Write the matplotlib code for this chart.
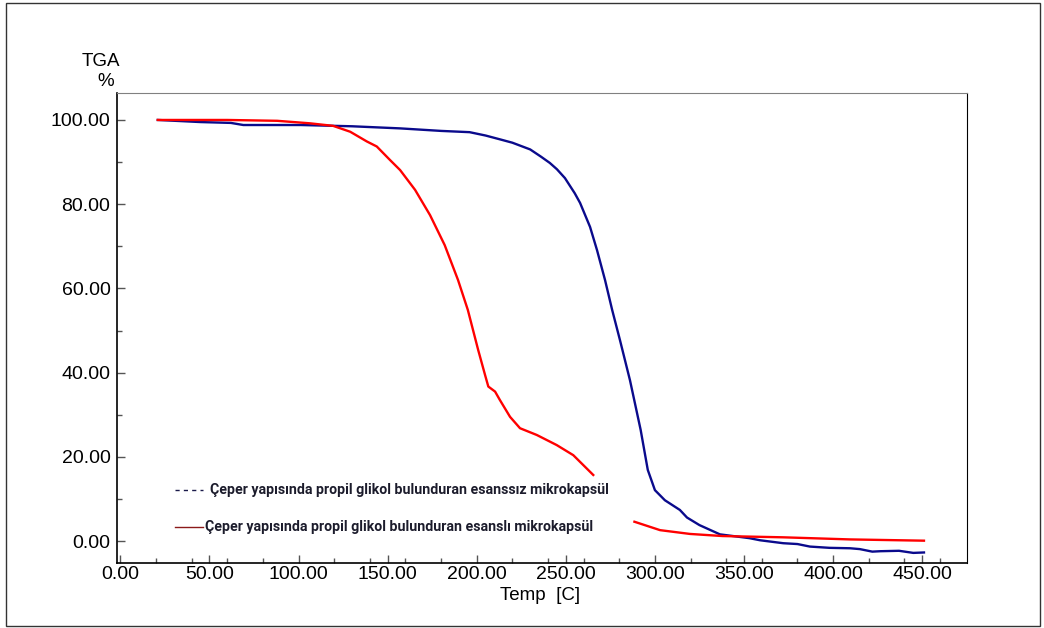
import numpy as np
import matplotlib.pyplot as plt
from matplotlib.patches import Rectangle
from matplotlib.ticker import MultipleLocator, FormatStrFormatter

# TGA egrileri: sicaklik (C) ve kalan kutle (%)
temp_esanssiz = [21, 45, 62, 69, 80, 101, 130, 157, 180, 196, 205, 213, 220, 230,
                 236, 241, 245, 249.5, 255, 258, 263.6, 267.5, 272, 276, 280.4, 286,
                 292, 296, 300, 305.6, 314, 318, 325, 336.5, 353, 359, 372, 380,
                 387, 398, 409.5, 415, 422, 426.5, 437, 445, 451]
tga_esanssiz = [100.0, 99.5, 99.3, 98.8, 98.8, 98.8, 98.5, 98.0, 97.4, 97.1, 96.3,
                95.4, 94.6, 93.0, 91.3, 89.8, 88.3, 86.2, 82.6, 80.3, 74.6, 69.1,
                62.0, 54.9, 47.7, 38.2, 26.4, 16.9, 12.1, 9.7, 7.4, 5.6, 3.8, 1.6,
                0.7, 0.2, -0.5, -0.7, -1.3, -1.6, -1.7, -1.9, -2.5, -2.4, -2.3,
                -2.8, -2.7]

temp_esansli = [21, 60, 88, 106.5, 119.4, 129, 138.3, 143.9, 151.3, 157, 165.4,
                173.8, 182, 189.5, 195, 200.8, 204.7, 206.5, 210.3, 213, 218.7,
                224.3, 233.7, 244.9, 254.2, 265.4, np.nan, 288.5, 302.9, 319.7,
                338, 372, 409.5, 451]
tga_esansli = [100.0, 100.0, 99.8, 99.2, 98.6, 97.2, 94.9, 93.7, 90.5, 88.1, 83.4,
               77.4, 70.3, 62.0, 54.9, 45.4, 39.4, 36.7, 35.5, 33.5, 29.5, 26.8,
               25.2, 22.8, 20.4, 15.7, np.nan, 4.6, 2.6, 1.7, 1.2, 0.9, 0.4, 0.1]

label_esanssiz = "Çeper yapısında propil glikol bulunduran esanssız mikrokapsül"
label_esansli = "Çeper yapısında propil glikol bulunduran esanslı mikrokapsül"

plt.rcParams['font.family'] = ['Liberation Sans', 'DejaVu Sans']

fig = plt.figure(figsize=(10.44, 6.28), dpi=100)
ax = fig.add_axes([0.1124, 0.1035, 0.8141, 0.7484])

ax.plot(temp_esanssiz, tga_esanssiz, color='#0a0a8c', lw=1.7)
ax.plot(temp_esansli, tga_esansli, color='#ff0000', lw=1.7)

ax.set_xlim(-1.7, 475.3)
ax.set_ylim(-5.2, 106.4)
ax.xaxis.set_major_locator(MultipleLocator(50))
ax.xaxis.set_minor_locator(MultipleLocator(20))
ax.yaxis.set_major_locator(MultipleLocator(20))
ax.yaxis.set_minor_locator(MultipleLocator(10))
ax.xaxis.set_major_formatter(FormatStrFormatter('%.2f'))
ax.yaxis.set_major_formatter(FormatStrFormatter('%.2f'))
ax.tick_params(which='both', direction='in', labelsize=14, color='#555555', width=1)
ax.tick_params(which='major', length=6)
ax.tick_params(which='minor', length=3.5)
ax.tick_params(axis='x', pad=2)
ax.tick_params(axis='y', pad=5)

ax.spines['top'].set_color('#808080')
for s in ['left', 'bottom', 'right']:
    ax.spines[s].set_color('black')
ax.spines['left'].set_linewidth(1.2)
ax.spines['bottom'].set_linewidth(1.2)

fig.text(101 / 1044, 1 - 61 / 628, "TGA", fontsize=13.5, ha='center', va='center')
fig.text(106 / 1044, 1 - 81 / 628, "%", fontsize=13.5, ha='center', va='center')
fig.text(540 / 1044, 1 - 595 / 628, "Temp  [C]", fontsize=13.5, ha='center', va='center')

# elle yerlestirilmis lejant
leg_x0, leg_x1 = 175 / 1044, 203 / 1044
y1, y2 = 1 - 490 / 628, 1 - 527 / 628
fig.add_artist(plt.Line2D([leg_x0, leg_x1], [y1, y1], transform=fig.transFigure,
                          color='#1a1a4a', lw=1, ls=(0, (3, 3))))
fig.add_artist(plt.Line2D([leg_x0, leg_x1], [y2, y2], transform=fig.transFigure,
                          color='#8b1a1a', lw=1))
fig.text(210 / 1044, y1, label_esanssiz, fontsize=10.2, fontweight='bold',
         family=['Roboto', 'DejaVu Sans'], color='#1c1c2c', va='center')
fig.text(205 / 1044, y2, label_esansli, fontsize=10.2, fontweight='bold',
         family=['Roboto', 'DejaVu Sans'], color='#1c1c2c', va='center')

fig.add_artist(Rectangle((6 / 1044, 2 / 628), 1034 / 1044, 623 / 628,
                         transform=fig.transFigure, fill=False,
                         edgecolor='#333333', lw=1))

fig.savefig('out.png', dpi=100)
